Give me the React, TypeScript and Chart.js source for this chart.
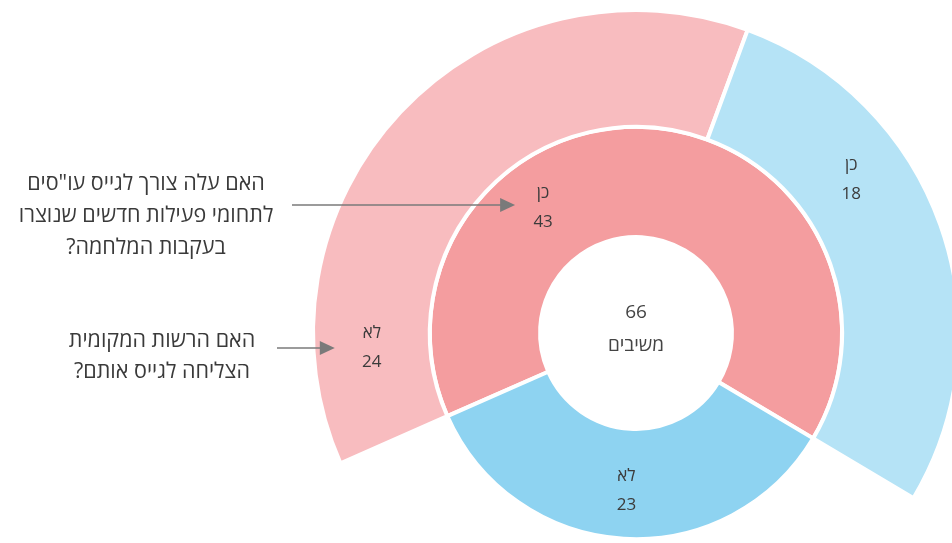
import React, { useEffect, useRef } from "react";
import { Chart, registerables } from "chart.js";

Chart.register(...registerables);

// Inner ring: did the need arise? (כן / לא)
const innerCategories = ["כן", "לא"];
const innerValues = [43, 23];
// Outer ring: of those who answered "כן" – did the authority succeed?
const outerCategories = ["לא", "כן"];
const outerValues = [24, 18];

const totalLabel = "משיבים";
const questionInner = ['האם עלה צורך לגייס עו"סים', "לתחומי פעילות חדשים שנוצרו", "בעקבות המלחמה?"];
const questionOuter = ["האם הרשות המקומית", "הצליחה לגייס אותם?"];

const innerColors = ["#F49D9F", "#8ED3F1"];
const outerColors = ["#F8BCBF", "#B5E3F6"];

const FONT = '"Open Sans", "Liberation Sans", "DejaVu Sans", sans-serif';

// label placement within each arc: fraction along the sweep and across the ring thickness
const labelPlacement = [
  [
    { a: 0.155, r: 0.5 },
    { a: 0.34, r: 0.5 },
  ],
  [
    { a: 0.33, r: 0.55 },
    { a: 0.5, r: 0.56 },
  ],
];

const sum = (a: number[]) => a.reduce((s, v) => s + v, 0);

export default function App() {
  const ref = useRef<HTMLCanvasElement | null>(null);

  useEffect(() => {
    if (!ref.current) return;
    const labelPos: { x: number; y: number }[][] = [[], []];

    const labelsPlugin = {
      id: "ringLabels",
      afterDatasetsDraw(chart: any) {
        const ctx = chart.ctx as CanvasRenderingContext2D;
        const cats = [outerCategories, innerCategories];
        const vals = [outerValues, innerValues];
        ctx.save();
        ctx.textAlign = "center";
        ctx.textBaseline = "middle";
        ctx.direction = "rtl";
        let cx = 0;
        let cy = 0;
        for (let d = 0; d < 2; d++) {
          const meta = chart.getDatasetMeta(d);
          meta.data.forEach((arc: any, i: number) => {
            const p = arc.getProps(["x", "y", "startAngle", "endAngle", "innerRadius", "outerRadius"], true);
            cx = p.x;
            cy = p.y;
            const pl = labelPlacement[d][i];
            const ang = p.startAngle + pl.a * (p.endAngle - p.startAngle);
            const rr = p.innerRadius + pl.r * (p.outerRadius - p.innerRadius);
            const x = p.x + Math.cos(ang) * rr;
            const y = p.y + Math.sin(ang) * rr;
            labelPos[d][i] = { x, y };
            ctx.fillStyle = "#3b3b3b";
            ctx.font = `17px ${FONT}`;
            ctx.fillText(cats[d][i], x, y - 14);
            ctx.fillText(String(vals[d][i]), x, y + 15);
          });
        }
        // centre text
        ctx.fillStyle = "#444444";
        ctx.font = `19px ${FONT}`;
        ctx.fillText(String(sum(innerValues)), cx, cy - 20);
        ctx.fillText(totalLabel, cx, cy + 13);

        // annotations with arrows
        const drawArrow = (x0: number, x1: number, y: number) => {
          ctx.strokeStyle = "#7a7a7a";
          ctx.fillStyle = "#7a7a7a";
          ctx.lineWidth = 1.6;
          ctx.beginPath();
          ctx.moveTo(x0, y);
          ctx.lineTo(x1 - 12, y);
          ctx.stroke();
          ctx.beginPath();
          ctx.moveTo(x1, y);
          ctx.lineTo(x1 - 15, y - 7);
          ctx.lineTo(x1 - 15, y + 7);
          ctx.closePath();
          ctx.fill();
        };
        const li = labelPos[1][0];
        const lo = labelPos[0][0];
        drawArrow(292, li.x - 28, li.y - 2);
        drawArrow(277, lo.x - 37, lo.y + 1);

        ctx.fillStyle = "#3a3a3a";
        ctx.font = `21.5px ${FONT}`;
        questionInner.forEach((t, k) => ctx.fillText(t, 146, li.y - 23 + k * 32));
        questionOuter.forEach((t, k) => ctx.fillText(t, 162, lo.y - 6 + k * 31));
        ctx.restore();
      },
    };

    const chart = new Chart(ref.current, {
      type: "doughnut",
      data: {
        labels: innerCategories,
        datasets: [
          {
            data: outerValues,
            backgroundColor: outerColors,
            borderColor: "#ffffff",
            borderWidth: 4,
            weight: 1.06,
            rotation: 246.2,
            circumference: (360 * innerValues[0]) / sum(innerValues),
          } as any,
          {
            data: innerValues,
            backgroundColor: innerColors,
            borderColor: "#ffffff",
            borderWidth: 4,
            weight: 1,
            rotation: 246.2,
            circumference: 360,
          } as any,
        ],
      },
      options: {
        responsive: false,
        animation: false,
        radius: 323,
        cutout: "29.7%",
        layout: { padding: { left: 320, right: 0, top: 123, bottom: 0 } },
        plugins: { legend: { display: false }, tooltip: { enabled: false } },
      } as any,
      plugins: [labelsPlugin],
    });
    return () => chart.destroy();
  }, []);

  return (
    <div
      style={{
        position: "absolute",
        left: 0,
        top: 0,
        width: 952,
        height: 543,
        overflow: "hidden",
        background: "#ffffff",
      }}
    >
      <canvas ref={ref} width={952} height={543} style={{ display: "block" }} />
    </div>
  );
}
